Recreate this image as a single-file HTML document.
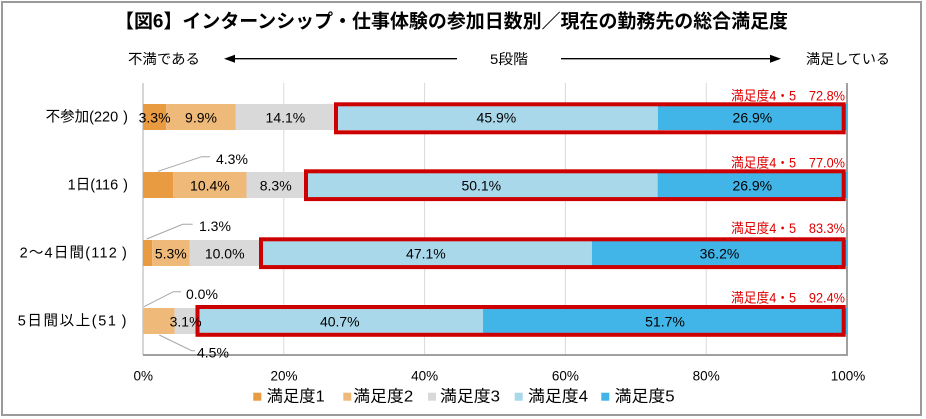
<!DOCTYPE html>
<html><head><meta charset="utf-8"><style>
html,body{margin:0;padding:0;background:#fff;}
svg{display:block;}
text{font-family:"Liberation Sans","Noto Sans CJK JP",sans-serif;}
</style></head><body>
<svg width="926" height="419" viewBox="0 0 926 419" xmlns="http://www.w3.org/2000/svg">
<rect x="0" y="0" width="926" height="419" fill="#fff"/>
<rect x="2" y="2" width="919" height="413" fill="none" stroke="#9a9a9a" stroke-width="2"/>

<!-- title -->
<text x="115" y="22" font-size="19" font-weight="bold" dominant-baseline="central" textLength="673" lengthAdjust="spacingAndGlyphs">【図6】インターンシップ・仕事体験の参加日数別／現在の勤務先の総合満足度</text>

<!-- header scale -->
<text x="128" y="59" font-size="14" dominant-baseline="central" textLength="72" lengthAdjust="spacingAndGlyphs">不満である</text>
<line x1="233" y1="58.7" x2="457" y2="58.7" stroke="#000" stroke-width="1.3"/>
<polygon points="224,58.7 235,54.7 235,62.7" fill="#000"/>
<text x="490" y="59" font-size="14" dominant-baseline="central" textLength="38" lengthAdjust="spacingAndGlyphs">5段階</text>
<line x1="561" y1="58.7" x2="772" y2="58.7" stroke="#000" stroke-width="1.3"/>
<polygon points="781,58.7 770,54.7 770,62.7" fill="#000"/>
<text x="806" y="59" font-size="14" dominant-baseline="central" textLength="84" lengthAdjust="spacingAndGlyphs">満足している</text>

<!-- gridlines -->
<g stroke="#d9d9d9" stroke-width="1">
<line x1="283.8" y1="83" x2="283.8" y2="355"/>
<line x1="424.6" y1="83" x2="424.6" y2="355"/>
<line x1="565.4" y1="83" x2="565.4" y2="355"/>
<line x1="706.2" y1="83" x2="706.2" y2="355"/>
</g>
<line x1="143" y1="83" x2="143" y2="355" stroke="#c8c8c8" stroke-width="1.5"/>
<line x1="847" y1="83" x2="847" y2="355.5" stroke="#a0a0a0" stroke-width="2"/>
<line x1="143" y1="355" x2="848" y2="355" stroke="#a0a0a0" stroke-width="2"/>

<!-- Row 1 -->
<g>
<rect x="143" y="104" width="23.21" height="26" fill="#e99b42"/>
<rect x="166.21" y="104" width="69.63" height="26" fill="#eeb979"/>
<rect x="235.84" y="104" width="99.17" height="26" fill="#d9d9d9"/>
<rect x="335.01" y="104" width="322.82" height="26" fill="#a9d8ea"/>
<rect x="657.83" y="104" width="189.17" height="26" fill="#41b5e7"/>
<rect x="336" y="104.3" width="507.7" height="28" fill="none" stroke="#cc0000" stroke-width="4"/>
</g>
<!-- Row 2 -->
<g>
<rect x="143" y="172" width="30.27" height="26" fill="#e99b42"/>
<rect x="173.27" y="172" width="73.22" height="26" fill="#eeb979"/>
<rect x="246.49" y="172" width="58.43" height="26" fill="#d9d9d9"/>
<rect x="304.92" y="172" width="352.7" height="26" fill="#a9d8ea"/>
<rect x="657.62" y="172" width="189.38" height="26" fill="#41b5e7"/>
<rect x="306" y="171.3" width="537.7" height="27.8" fill="none" stroke="#cc0000" stroke-width="4"/>
</g>
<!-- Row 3 -->
<g>
<rect x="143" y="240" width="9.16" height="26" fill="#e99b42"/>
<rect x="152.16" y="240" width="37.35" height="26" fill="#eeb979"/>
<rect x="189.51" y="240" width="70.47" height="26" fill="#d9d9d9"/>
<rect x="259.98" y="240" width="331.92" height="26" fill="#a9d8ea"/>
<rect x="591.9" y="240" width="255.1" height="26" fill="#41b5e7"/>
<rect x="261" y="239.3" width="582.7" height="27.8" fill="none" stroke="#cc0000" stroke-width="4"/>
</g>
<!-- Row 4 -->
<g>
<rect x="143" y="308" width="31.68" height="26" fill="#eeb979"/>
<rect x="174.68" y="308" width="21.82" height="26" fill="#d9d9d9"/>
<rect x="196.5" y="308" width="286.53" height="26" fill="#a9d8ea"/>
<rect x="483.03" y="308" width="363.97" height="26" fill="#41b5e7"/>
<rect x="197.5" y="307" width="646.2" height="27.8" fill="none" stroke="#cc0000" stroke-width="4"/>
</g>

<!-- leader lines -->
<g stroke="#a6a6a6" stroke-width="1" fill="none">
<polyline points="158,171.3 201.7,156.7 210,156.7"/>
<polyline points="146.7,239 182.7,224.3 192.7,224.3"/>
<polyline points="144,306.7 173.3,291.7 181,291.7"/>
<polyline points="159.3,335 191.7,350.7 195,350.7"/>
</g>

<!-- value labels -->
<g font-size="14" text-anchor="middle" dominant-baseline="central" fill="#000">
<text x="154.6" y="117.5">3.3%</text>
<text x="201" y="117.5">9.9%</text>
<text x="285.4" y="117.5">14.1%</text>
<text x="496.4" y="117.5">45.9%</text>
<text x="752.4" y="117.5">26.9%</text>

<text x="209.9" y="185.5">10.4%</text>
<text x="275.7" y="185.5">8.3%</text>
<text x="481.3" y="185.5">50.1%</text>
<text x="752.3" y="185.5">26.9%</text>

<text x="170.8" y="253.5">5.3%</text>
<text x="224.7" y="253.5">10.0%</text>
<text x="425.9" y="253.5">47.1%</text>
<text x="719.5" y="253.5">36.2%</text>

<text x="185.6" y="321.5">3.1%</text>
<text x="339.8" y="321.5">40.7%</text>
<text x="665" y="321.5">51.7%</text>
</g>
<g font-size="14" dominant-baseline="central" fill="#000">
<text x="216" y="159">4.3%</text>
<text x="199" y="226">1.3%</text>
<text x="186" y="294">0.0%</text>
<text x="197" y="352.5">4.5%</text>
</g>

<!-- red labels -->
<g font-size="13.5" text-anchor="end" dominant-baseline="central">
<text x="845" y="95.8" style="fill:#e00000" textLength="114" lengthAdjust="spacingAndGlyphs">満足度4・5　72.8%</text>
<text x="845" y="163" style="fill:#e00000" textLength="114" lengthAdjust="spacingAndGlyphs">満足度4・5　77.0%</text>
<text x="845" y="228.5" style="fill:#e00000" textLength="114" lengthAdjust="spacingAndGlyphs">満足度4・5　83.3%</text>
<text x="845" y="297.8" style="fill:#e00000" textLength="114" lengthAdjust="spacingAndGlyphs">満足度4・5　92.4%</text>
</g>

<!-- category labels -->
<g font-size="14.5" dominant-baseline="central" fill="#000" text-anchor="end">
<text x="128" y="117.5">不参加(220<tspan dx="5">)</tspan></text>
<text x="128" y="185.5">1日(116<tspan dx="5">)</tspan></text>
<text x="128" y="253.5" letter-spacing="1.2">2～4日間(112<tspan dx="4">)</tspan></text>
<text x="128" y="321.5" letter-spacing="1.6">5日間以上(51<tspan dx="4">)</tspan></text>
</g>

<!-- axis tick labels -->
<g font-size="13.5" text-anchor="middle" dominant-baseline="central" fill="#000">
<text x="143.3" y="376">0%</text>
<text x="284" y="376">20%</text>
<text x="424.6" y="376">40%</text>
<text x="565.4" y="376">60%</text>
<text x="706.2" y="376">80%</text>
<text x="848" y="376">100%</text>
</g>

<!-- legend -->
<g>
<rect x="253.3" y="392.7" width="8" height="8" fill="#e99b42"/>
<rect x="343.3" y="392.7" width="8" height="8" fill="#eeb979"/>
<rect x="428" y="392.7" width="8" height="8" fill="#d9d9d9"/>
<rect x="514.7" y="392.7" width="8" height="8" fill="#a9d8ea"/>
<rect x="601.3" y="392.7" width="8" height="8" fill="#41b5e7"/>
</g>
<g font-size="16" dominant-baseline="central" fill="#000">
<text x="266.7" y="397" textLength="58" lengthAdjust="spacingAndGlyphs">満足度1</text>
<text x="353.3" y="397" textLength="60" lengthAdjust="spacingAndGlyphs">満足度2</text>
<text x="440" y="397" textLength="60" lengthAdjust="spacingAndGlyphs">満足度3</text>
<text x="528" y="397" textLength="60" lengthAdjust="spacingAndGlyphs">満足度4</text>
<text x="614.7" y="397" textLength="60" lengthAdjust="spacingAndGlyphs">満足度5</text>
</g>
</svg>
</body></html>
